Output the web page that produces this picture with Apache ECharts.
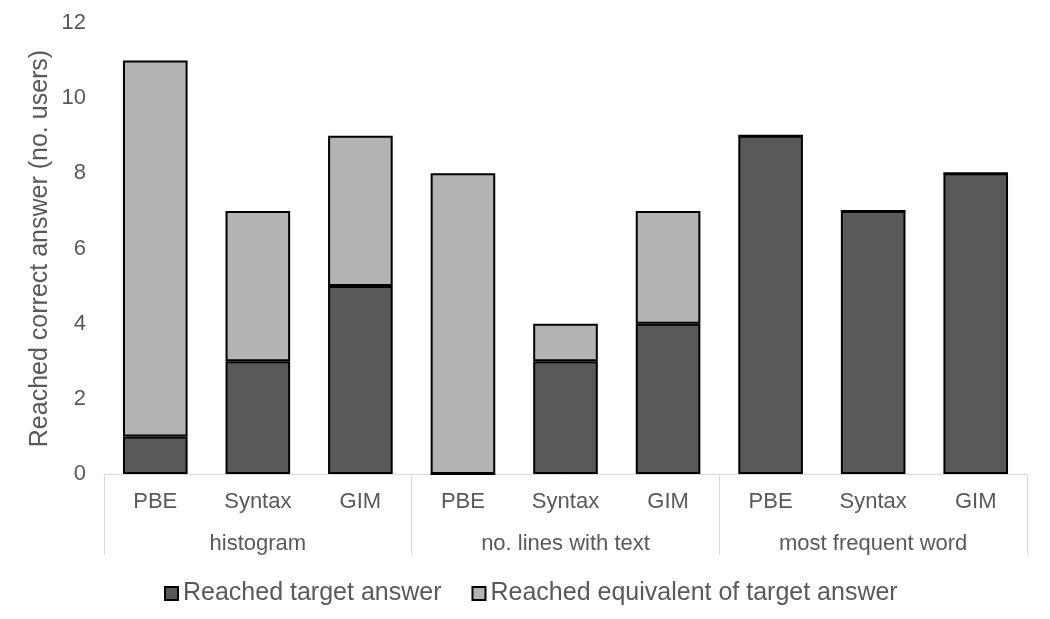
<!DOCTYPE html>
<html>
<head>
<meta charset="utf-8">
<script src="https://cdn.jsdelivr.net/npm/echarts@6/dist/echarts.min.js"></script>
<style>html,body{margin:0;padding:0;background:#fff}#c{width:1050px;height:619px}</style>
</head>
<body>
<div id="c"></div>
<script>
const categories = ['PBE','Syntax','GIM','PBE','Syntax','GIM','PBE','Syntax','GIM'];
const groups = ['histogram','no. lines with text','most frequent word'];
const targetAnswer = [1,3,5,0,3,4,9,7,8];
const equivalentAnswer = [10,4,4,8,1,3,0,0,0];
const yTicks = {min:0, max:12, interval:2};

const txt = '#595959';
const font = 'Liberation Sans, Arial, sans-serif';
const chart = echarts.init(document.getElementById('c'));
chart.setOption({
  animation:false,
  textStyle:{fontFamily:font},
  grid:{left:104, right:23, top:23, bottom:145},
  legend:{
    top:576, left:159, icon:'rect', itemWidth:13, itemHeight:13, itemGap:30,
    textStyle:{color:txt, fontSize:25, fontFamily:font},
    data:['Reached target answer','Reached equivalent of target answer']
  },
  xAxis:[
    {type:'category', data:categories, position:'bottom',
     axisLine:{show:true, lineStyle:{color:'#d9d9d9', width:1}},
     axisTick:{show:false},
     axisLabel:{color:txt, fontSize:22, margin:17, interval:0}},
    {type:'category', data:groups, position:'bottom', offset:0,
     axisLine:{show:false},
     axisTick:{show:true, length:81, interval:0, lineStyle:{color:'#d9d9d9', width:1}},
     axisLabel:{color:txt, fontSize:22, margin:59, interval:0}}
  ],
  yAxis:{type:'value', min:yTicks.min, max:yTicks.max, interval:yTicks.interval,
    name:'Reached correct answer (no. users)', nameLocation:'middle', nameGap:51,
    nameMoveOverlap:false,
    nameTextStyle:{color:txt, fontSize:25, fontFamily:font},
    axisLine:{show:false}, axisTick:{show:false}, splitLine:{show:false},
    axisLabel:{color:txt, fontSize:22, margin:18}},
  series:[
    {name:'Reached target answer', type:'bar', stack:'a', xAxisIndex:0, barWidth:'63%',
     data:targetAnswer, itemStyle:{color:'#595959', borderColor:'#000', borderWidth:2}},
    {name:'Reached equivalent of target answer', type:'bar', stack:'a', xAxisIndex:0, barWidth:'63%',
     data:equivalentAnswer, itemStyle:{color:'#b3b3b3', borderColor:'#000', borderWidth:2}}
  ]
});
</script>
</body>
</html>
